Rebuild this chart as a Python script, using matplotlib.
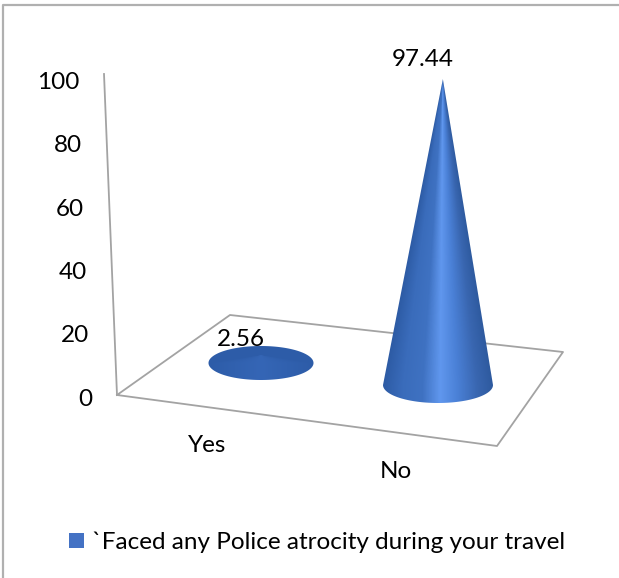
import numpy as np
import matplotlib
matplotlib.use("Agg")
import matplotlib.pyplot as plt
from matplotlib.colors import LinearSegmentedColormap
from matplotlib.patches import Polygon, Rectangle

categories = ["Yes", "No"]
values = [2.56, 97.44]
value_labels = ["2.56", "97.44"]
y_ticks = [0, 20, 40, 60, 80, 100]
legend_label = "`Faced any Police atrocity during your travel"

plt.rcParams["font.family"] = ["Lato", "DejaVu Sans"]
W, H = 619, 578
FS = 17.5
LINE = "#a3a3a3"

fig = plt.figure(figsize=(W / 100, H / 100), dpi=100)
ax = fig.add_axes([0, 0, 1, 1])


# height of the 3d value axis in pixels
def val_h(v):
    return v * 3.14


def axis_x(v):
    return 117 - 0.13 * v


def axis_y(v):
    return 395 - 3.21 * v


cone_cmap = LinearSegmentedColormap.from_list("cone", [
    (0.0, "#2d5ba4"), (0.18, "#3a6cbb"), (0.36, "#3f72c2"),
    (0.52, "#6097ee"), (0.68, "#4a80d6"), (0.86, "#3966b0"), (1.0, "#2e5a9f")])
disc_cmap = LinearSegmentedColormap.from_list("disc", [
    (0.0, "#2d5ca8"), (0.5, "#3566b6"), (1.0, "#2d5ca8")])


def draw_cone(cx, cy, rx, ry, lean, value, cmap):
    h = val_h(value)
    ax_x, ax_y = cx + lean * value, cy - h
    t = np.linspace(np.pi, 0, 80)
    arc = np.column_stack([cx + rx * np.cos(t), cy + ry * np.sin(t)])
    if value < 10:
        # so flat that the whole ellipse shows
        t2 = np.linspace(0, -np.pi, 80)
        top = np.column_stack([cx + rx * np.cos(t2), cy + ry * np.sin(t2)])
        pts = np.vstack([arc, top])
    else:
        pts = np.vstack([arc, [[ax_x, ax_y]]])
    x0, x1 = int(cx - rx - 2), int(cx + rx + 8)
    y0, y1 = int(min(ax_y, cy - ry) - 2), int(cy + ry + 2)
    xx, yy = np.meshgrid(np.arange(x0, x1) + 0.5, np.arange(y0, y1) + 0.5)
    frac = np.clip((cy - yy) / max(h, 1), 0, 1)
    half = np.maximum(rx * (1 - frac), 0.5)
    mid = cx + (ax_x - cx) * frac
    u = np.clip((xx - mid) / half * 0.5 + 0.5, 0, 1)
    im = ax.imshow(u, extent=(x0, x1, y1, y0), cmap=cmap, vmin=0, vmax=1,
                   aspect="auto", zorder=3, interpolation="bilinear")
    im.set_clip_path(Polygon(pts, closed=True, transform=ax.transData))


# chart area border, only top and left
ax.plot([3, 3, W], [H, 5, 5], color="#b0b0b0", lw=1.6, zorder=1)

# floor and value axis
floor_x = [117, 230, 563, 497, 117]
floor_y = [395, 315, 352, 446, 395]
ax.plot(floor_x, floor_y, color=LINE, lw=1.3, zorder=2)
ax.plot([axis_x(0), axis_x(100)], [axis_y(0), axis_y(100)], color=LINE, lw=1.3, zorder=2)

draw_cone(261, 363, 52.5, 17, 0, values[0], disc_cmap)
draw_cone(438, 385, 55, 18, 0.05, values[1], cone_cmap)

for v in y_ticks:
    ax.text(axis_x(v) - 25, axis_y(v) + 4.3 + 0.04 * v, str(v), ha="right", va="center",
            fontsize=FS, color="black", zorder=5)

ax.text(207, 446, categories[0], ha="center", va="center", fontsize=FS, zorder=5)
ax.text(396, 471, categories[1], ha="center", va="center", fontsize=FS, zorder=5)
ax.text(241, 340, value_labels[0], ha="center", va="center", fontsize=FS, zorder=5)
ax.text(423, 59, value_labels[1], ha="center", va="center", fontsize=FS, zorder=5)

ax.add_patch(Rectangle((69, 533), 15, 15, facecolor="#4472c4", edgecolor="none", zorder=5))
ax.text(92, 542, legend_label, ha="left", va="center", fontsize=FS, zorder=5)

ax.set_xlim(0, W)
ax.set_ylim(H, 0)
ax.axis("off")
fig.savefig("out.png", dpi=100, facecolor="white")
